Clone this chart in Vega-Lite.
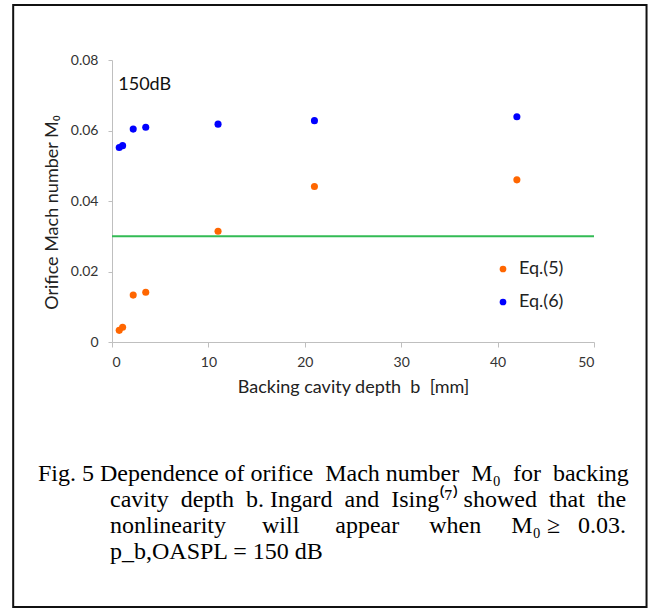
{
  "$schema": "https://vega.github.io/schema/vega-lite/v6.json",
  "autosize": {"type": "none"},
  "padding": {"left": 112, "top": 60, "right": 59, "bottom": 268},
  "width": 482,
  "height": 282,
  "background": "white",
  "title": {
    "text": [
      "Fig. 5 Dependence of orifice\u00a0 Mach number\u00a0 M₀\u00a0 for\u00a0 backing",
      "\u200b\u00a0\u00a0\u00a0\u00a0\u00a0\u00a0\u00a0\u00a0\u00a0\u00a0\u00a0\u00a0cavity\u00a0 depth\u00a0 b. Ingard\u00a0 and\u00a0 Ising⁽⁷⁾ showed\u00a0 that\u00a0 the",
      "\u200b\u00a0\u00a0\u00a0\u00a0\u00a0\u00a0\u00a0\u00a0\u00a0\u00a0\u00a0\u00a0nonlinearity \u00a0\u00a0\u00a0\u00a0\u00a0will \u00a0\u00a0\u00a0\u00a0\u00a0appear \u00a0\u00a0\u00a0\u00a0when \u00a0\u00a0\u00a0\u00a0M₀ ≥ \u00a0\u00a00.03.",
      "\u200b\u00a0\u00a0\u00a0\u00a0\u00a0\u00a0\u00a0\u00a0\u00a0\u00a0\u00a0\u00a0p_b,OASPL = 150 dB"
    ],
    "orient": "bottom",
    "anchor": "start",
    "frame": "group",
    "dx": -74,
    "offset": -146,
    "font": "Liberation Serif",
    "fontSize": 24,
    "fontWeight": "normal",
    "lineHeight": 26,
    "color": "black"
  },
  "data": {
    "values": [
      {"b": 0.75, "M0": 0.0033, "series": "Eq.(5)"},
      {"b": 1.1, "M0": 0.0042, "series": "Eq.(5)"},
      {"b": 2.2, "M0": 0.0133, "series": "Eq.(5)"},
      {"b": 3.5, "M0": 0.0141, "series": "Eq.(5)"},
      {"b": 11, "M0": 0.0314, "series": "Eq.(5)"},
      {"b": 21, "M0": 0.0441, "series": "Eq.(5)"},
      {"b": 42, "M0": 0.046, "series": "Eq.(5)"},
      {"b": 0.75, "M0": 0.0552, "series": "Eq.(6)"},
      {"b": 1.1, "M0": 0.0557, "series": "Eq.(6)"},
      {"b": 2.2, "M0": 0.0604, "series": "Eq.(6)"},
      {"b": 3.5, "M0": 0.0609, "series": "Eq.(6)"},
      {"b": 11, "M0": 0.0618, "series": "Eq.(6)"},
      {"b": 21, "M0": 0.0628, "series": "Eq.(6)"},
      {"b": 42, "M0": 0.0639, "series": "Eq.(6)"}
    ]
  },
  "layer": [
    {
      "data": {"values": [{"frame": 1}]},
      "mark": {"type": "rect", "fill": null, "stroke": "#111111", "strokeWidth": 2, "clip": false},
      "encoding": {
        "x": {"datum": -10.25, "type": "quantitative", "scale": {"domain": [0, 50], "nice": false}},
        "x2": {"datum": 55.45},
        "y": {"datum": 0.0956, "type": "quantitative", "scale": {"domain": [0, 0.08], "nice": false}},
        "y2": {"datum": -0.0752}
      }
    },
    {
      "data": {"values": [{"threshold": 0.03}]},
      "mark": {"type": "rule", "color": "#33bb55", "strokeWidth": 2},
      "encoding": {
        "y": {"field": "threshold", "type": "quantitative"}
      }
    },
    {
      "mark": {"type": "circle", "size": 50, "opacity": 1},
      "encoding": {
        "x": {
          "field": "b", "type": "quantitative",
          "scale": {"domain": [0, 50], "nice": false},
          "axis": {
            "values": [0, 10, 20, 30, 40, 50],
            "title": "Backing cavity depth\u00a0 b\u00a0 [mm]",
            "tickSize": 5,
            "labelPadding": 8,
            "titlePadding": 9
          }
        },
        "y": {
          "field": "M0", "type": "quantitative",
          "scale": {"domain": [0, 0.08], "nice": false},
          "axis": {
            "values": [0, 0.02, 0.04, 0.06, 0.08],
            "format": ".2~f",
            "title": "Orifice Mach number M₀",
            "tickSize": 4,
            "labelPadding": 10,
            "titlePadding": 9,
            "titleY": 152
          }
        },
        "color": {
          "field": "series", "type": "nominal",
          "scale": {"domain": ["Eq.(5)", "Eq.(6)"], "range": ["#ff6600", "#0000ff"]},
          "legend": {
            "title": null,
            "orient": "none",
            "legendX": 382,
            "legendY": 200,
            "symbolType": "circle",
            "symbolSize": 45,
            "symbolOpacity": 1,
            "labelFont": "Lato",
            "labelFontSize": 18,
            "labelColor": "#222222",
            "labelOffset": 7,
            "rowPadding": 15
          }
        }
      }
    },
    {
      "data": {"values": [{"label": "150dB"}]},
      "mark": {"type": "text", "align": "left", "baseline": "alphabetic", "font": "Lato", "fontSize": 18, "color": "#111111"},
      "encoding": {
        "text": {"field": "label"},
        "x": {"datum": 0.65, "type": "quantitative"},
        "y": {"datum": 0.0715, "type": "quantitative"}
      }
    }
  ],
  "config": {
    "view": {"stroke": null},
    "axis": {
      "labelFont": "Lato",
      "labelFontSize": 14,
      "labelColor": "#333333",
      "titleFont": "Lato",
      "titleFontSize": 18,
      "titleFontWeight": "normal",
      "titleColor": "#222222",
      "gridColor": "#e3e3e3",
      "domainColor": "#bfbfbf",
      "tickColor": "#bfbfbf"
    }
  }
}
